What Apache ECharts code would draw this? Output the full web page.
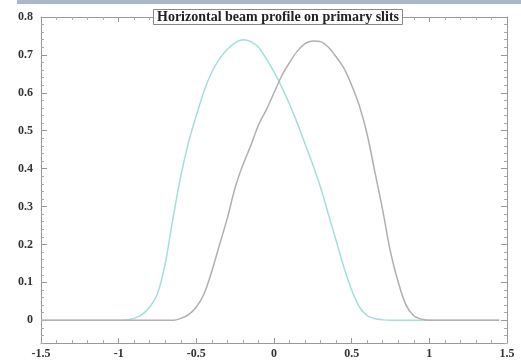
<!DOCTYPE html>
<html lang="en">
<head>
	<meta charset="UTF-8">
	<title>beam profile</title>
	<script src="https://cdn.jsdelivr.net/npm/echarts@6/dist/echarts.min.js"></script>
<style type="text/css">
	html,body{
		margin: 0;
		background-color: #fff;
	}
	#main{
		width: 521px;
		height: 364px;
	}
</style>
</head>
<body>
	<div id="main"></div>
	<script>
		// x positions (slit position) shared by both profiles
		var xs = [-1.5, -1.2, -1.0, -0.95, -0.9, -0.85, -0.8, -0.75, -0.7, -0.65, -0.6, -0.55, -0.5, -0.45, -0.4,
			-0.35, -0.3, -0.25, -0.2, -0.15, -0.1, -0.05, 0, 0.05, 0.1, 0.15, 0.2, 0.25, 0.3, 0.35, 0.4, 0.45,
			0.5, 0.55, 0.6, 0.65, 0.7, 0.75, 0.8, 0.85, 0.9, 0.95, 1.0, 1.2, 1.45];
		// cyan profile (peak left of zero)
		var cyanVals = [0, 0, 0, 0.001, 0.005, 0.015, 0.035, 0.07, 0.15, 0.27, 0.38, 0.47, 0.54, 0.605, 0.655,
			0.69, 0.715, 0.732, 0.74, 0.735, 0.72, 0.69, 0.655, 0.615, 0.57, 0.52, 0.465, 0.41, 0.35, 0.28, 0.21, 0.14,
			0.08, 0.035, 0.012, 0.004, 0.001, 0, 0, 0, 0, 0, 0, 0, 0];
		// grey profile (peak right of zero)
		var greyVals = [0, 0, 0, 0, 0, 0, 0, 0, 0, 0, 0.005, 0.015, 0.035, 0.07, 0.13,
			0.2, 0.27, 0.35, 0.41, 0.46, 0.515, 0.555, 0.6, 0.645, 0.68, 0.71, 0.73, 0.737, 0.735, 0.72, 0.695, 0.665,
			0.62, 0.565, 0.49, 0.39, 0.29, 0.18, 0.1, 0.04, 0.012, 0.003, 0, 0, 0];
		var yLabels = [0, 0.1, 0.2, 0.3, 0.4, 0.5, 0.6, 0.7, 0.8];

		function pairs(vals) {
			return xs.map(function (x, i) { return [x, vals[i]]; });
		}

		var labelFont = {
			fontFamily: 'Liberation Serif',
			fontWeight: 'bold',
			fontSize: 12,
			color: '#333'
		};
		var frameLine = {show: true, onZero: false, lineStyle: {color: '#999', width: 1}};

		function xAx(pos, labels) {
			return {
				type: 'value', position: pos, min: -1.5, max: 1.5, interval: 0.5,
				axisLine: frameLine,
				axisTick: {inside: true, length: 5, lineStyle: {color: '#999'}},
				minorTick: {show: true, splitNumber: 5, length: 3, lineStyle: {color: '#aaa'}},
				axisLabel: Object.assign({show: labels, margin: 5}, labelFont),
				splitLine: {show: false}
			};
		}
		function yMinor(pos, labels) {
			return {
				type: 'value', position: pos, min: -0.06, max: 0.8, interval: 0.02,
				axisLine: frameLine,
				axisTick: {inside: true, length: 3, lineStyle: {color: '#aaa'}},
				axisLabel: Object.assign({show: labels, margin: 8, customValues: yLabels}, labelFont),
				splitLine: {show: false}
			};
		}
		function yMajor(pos) {
			return {
				type: 'value', position: pos, min: -0.06, max: 0.8, interval: 0.02,
				axisLine: {show: false, onZero: false},
				axisTick: {inside: true, length: 6, customValues: yLabels, lineStyle: {color: '#999'}},
				axisLabel: {show: false},
				splitLine: {show: false}
			};
		}

		var chart = echarts.init(document.getElementById('main'));
		chart.setOption({
			animation: false,
			title: {
				text: 'Horizontal beam profile on primary slits',
				left: 153, top: 9,
				padding: [1, 4],
				backgroundColor: '#fff',
				borderColor: '#888',
				borderWidth: 1,
				textStyle: {fontFamily: 'Liberation Serif', fontWeight: 'bold', fontSize: 14, color: '#222'}
			},
			graphic: [{
				type: 'rect', z: 10,
				shape: {x: 17, y: 0, width: 504, height: 4},
				style: {fill: '#aab7c6'}
			}],
			grid: {left: 41, right: 14, top: 17, bottom: 21},
			xAxis: [xAx('bottom', true), xAx('top', false)],
			yAxis: [yMinor('left', true), yMajor('left'), yMinor('right', false), yMajor('right')],
			series: [{
				type: 'line', name: 'cyan', data: pairs(cyanVals), showSymbol: false, smooth: 0.3,
				lineStyle: {color: '#a4dfda', width: 1.5}
			}, {
				type: 'line', name: 'grey', data: pairs(greyVals), showSymbol: false, smooth: 0.3,
				lineStyle: {color: '#b6adb0', width: 1.5}
			}]
		});
	</script>
</body>
</html>
